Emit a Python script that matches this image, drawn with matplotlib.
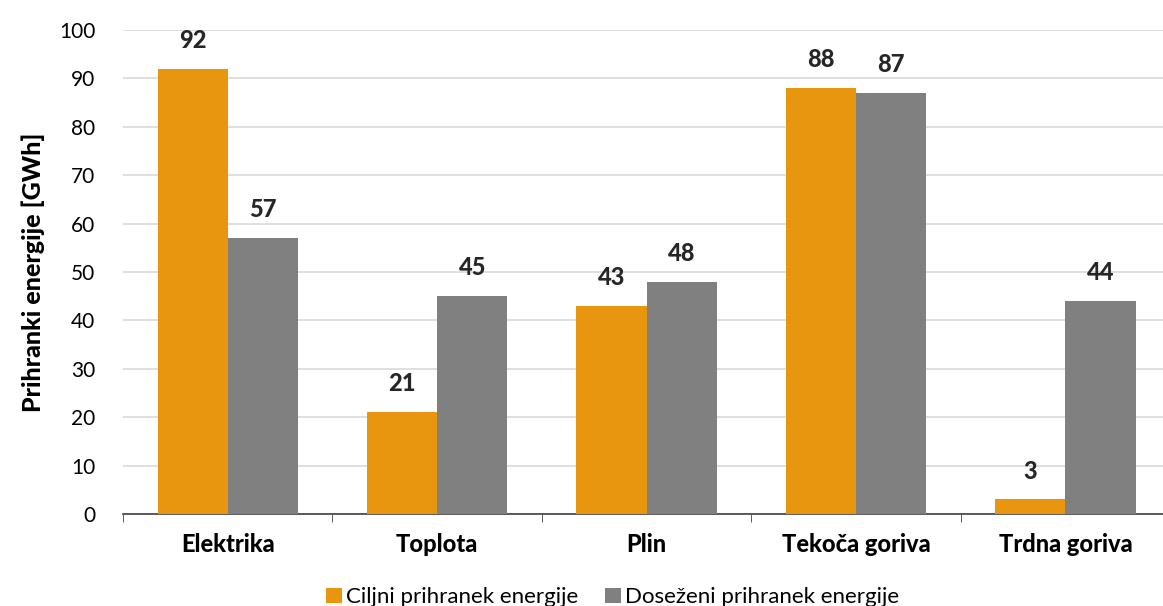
import matplotlib
matplotlib.use("Agg")
import matplotlib.pyplot as plt
import numpy as np

categories = ["Elektrika", "Toplota", "Plin", "Tekoča goriva", "Trdna goriva"]
target = [92, 21, 43, 88, 3]
achieved = [57, 45, 48, 87, 44]
series_names = ["Ciljni prihranek energije", "Doseženi prihranek energije"]

plt.rcParams['font.family'] = ['Lato', 'DejaVu Sans']

fig = plt.figure(figsize=(11.63, 6.06), dpi=100)
ax = fig.add_axes([0.1058, 0.1518, 0.9003, 0.7987])

x = np.arange(len(categories))
w = 0.335
b1 = ax.bar(x - w/2, target, w, color="#E8960F", label=series_names[0], zorder=3)
b2 = ax.bar(x + w/2, achieved, w, color="#808080", label=series_names[1], zorder=3)

for bars, vals in ((b1, target), (b2, achieved)):
    for r, v in zip(bars, vals):
        ax.text(r.get_x() + r.get_width()/2, v + 3.5, str(v), ha="center", va="bottom",
                fontsize=17, fontweight="black", color="#262626")

ax.set_ylim(0, 100)
ax.set_yticks(range(0, 101, 10))
ax.set_xlim(-0.5, len(categories) - 0.5)
ax.set_xticks(x)
ax.set_xticklabels(categories, fontsize=17, fontweight="black")
ax.set_xticks(np.arange(-0.5, len(categories)), minor=True)
ax.tick_params(axis="x", which="major", length=0, pad=14)
ax.tick_params(axis="x", which="minor", length=6, direction="out", color="#404040")
ax.tick_params(axis="y", length=0, labelsize=15, pad=20)
ax.yaxis.grid(True, color="#D9D9D9", linewidth=1.2, zorder=0)
for s in ("left", "right", "top"):
    ax.spines[s].set_visible(False)
ax.spines["bottom"].set_color("#404040")
ax.spines["bottom"].set_linewidth(1.2)
ax.set_ylabel("Prihranki energije [GWh]", fontsize=18, fontweight="black", labelpad=10)

fig.legend(loc="lower center", bbox_to_anchor=(0.527, -0.035), ncol=2, frameon=False,
           fontsize=16, handlelength=0.7, handleheight=0.7, handletextpad=0.2, columnspacing=1.2)

fig.savefig("out.png", dpi=100)
